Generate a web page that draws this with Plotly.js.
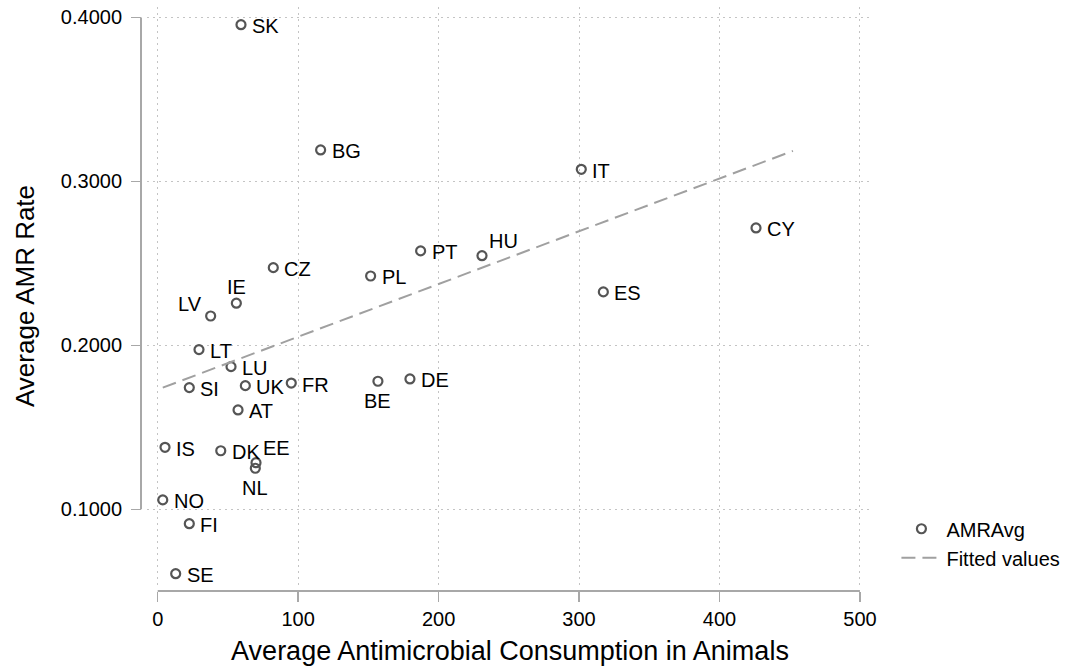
<!DOCTYPE html>
<html><head><meta charset="utf-8">
<script src="https://cdn.plot.ly/plotly-3.0.1.min.js"></script>
<style>html,body{margin:0;padding:0;background:#fff}#chart{width:1077px;height:666px}</style>
</head><body><div id="chart"></div>
<script>
// Data
const countries   = ['SK','BG','IT','CY','HU','PT','PL','ES','CZ','IE','LV','LT','LU','SI','UK','FR','AT','BE','DE','IS','DK','EE','NL','NO','FI','SE'];
const consumption = [59.3,116.0,301.6,426.0,230.9,187.2,151.6,317.3,82.3,56.0,37.7,29.4,52.2,22.5,62.4,95.1,57.2,156.8,179.6,5.2,44.9,70.0,69.5,3.6,22.5,12.8];
const amrAvg      = [0.3956,0.3192,0.3074,0.2716,0.2547,0.2576,0.2423,0.2326,0.2474,0.2257,0.2179,0.1974,0.1870,0.1742,0.1754,0.1770,0.1606,0.1781,0.1795,0.1378,0.1357,0.1284,0.1250,0.1057,0.0912,0.0607];
const labelPos    = ['r','r','r','r','tr','r','r','r','r','t','tl','r','r','r','r','r','r','b','r','r','r','tr','b','r','r','r'];
const fitX = [3.6, 452.3];
const fitY = [0.1742, 0.3186];
const xTicks = [0,100,200,300,400,500];
const yTicks = [0.1,0.2,0.3,0.4];
const seriesNames = ['AMRAvg','Fitted values'];
const xTitle = 'Average Antimicrobial Consumption in Animals';
const yTitle = 'Average AMR Rate';

const FONT = 'Liberation Sans, Arial, Helvetica, sans-serif';
const markerGray = '#555555';
const axisGray = '#a8a8a8';
const gridGray = '#c4c4c4';

const posStyle = {
  r:  {xanchor:'left',   yanchor:'middle', xshift:9,  yshift:-1.5},
  t:  {xanchor:'center', yanchor:'bottom', xshift:0,  yshift:3},
  tl: {xanchor:'right',  yanchor:'middle', xshift:-7, yshift:11.5},
  tr: {xanchor:'left',   yanchor:'middle', xshift:5,  yshift:15},
  b:  {xanchor:'center', yanchor:'middle', xshift:0,  yshift:-20}
};

const annotations = countries.map((c,i) => Object.assign({
  x: consumption[i], y: amrAvg[i], xref:'x', yref:'y', text: c, showarrow:false,
  font:{family:FONT, size:20, color:'#000'}
}, posStyle[labelPos[i]]));

const traces = [
  {
    type:'scatter', mode:'markers', name: seriesNames[0],
    x: consumption, y: amrAvg, text: countries,
    marker:{symbol:'circle-open', size:9, color:markerGray, line:{width:2.2, color:markerGray}},
    cliponaxis:false, hoverinfo:'text+x+y'
  },
  {
    type:'scatter', mode:'lines', name: seriesNames[1],
    x: fitX, y: fitY,
    line:{color:'#a0a0a0', width:2, dash:'14px,7px'}
  }
];

const layout = {
  width:1077, height:666,
  paper_bgcolor:'#fff', plot_bgcolor:'#fff',
  margin:{l:141, r:204, t:7, b:75},
  font:{family:FONT, size:20, color:'#000'},
  showlegend:true,
  legend:{x:1.032, y:0.14, xanchor:'left', yanchor:'top', bgcolor:'rgba(0,0,0,0)',
          font:{family:FONT, size:20, color:'#000'}, itemwidth:40, tracegroupgap:0},
  xaxis:{
    domain:[0.0082,1], range:[-7.62,509.3], anchor:'free', position:0,
    tickvals:xTicks, ticks:'outside', ticklen:10, tickwidth:1.5, tickcolor:axisGray,
    tickfont:{family:FONT, size:20, color:'#000'},
    showline:false, zeroline:false,
    showgrid:true, gridcolor:gridGray, gridwidth:1, griddash:'1.5px,4.5px',
    title:{text:xTitle, font:{family:FONT, size:27, color:'#000'}, standoff:17},
    automargin:false
  },
  yaxis:{
    domain:[0.0103,1], range:[0.0538,0.4064], anchor:'free', position:0,
    tickvals:yTicks, tickformat:'.4f', ticks:'outside', ticklen:10, tickwidth:1.5, tickcolor:axisGray,
    tickfont:{family:FONT, size:20, color:'#000'}, ticklabelstandoff:5,
    showline:false, zeroline:false,
    showgrid:true, gridcolor:gridGray, gridwidth:1, griddash:'1.5px,4.5px',
    title:{text:yTitle, font:{family:FONT, size:26, color:'#000'}, standoff:17},
    automargin:false
  },
  shapes:[
    {type:'line', xref:'x', yref:'paper', x0:xTicks[0], x1:xTicks[xTicks.length-1], y0:0, y1:0,
     line:{color:axisGray, width:2}},
    {type:'line', xref:'paper', yref:'y', x0:0, x1:0, y0:yTicks[0], y1:yTicks[yTicks.length-1],
     line:{color:axisGray, width:2}}
  ],
  annotations: annotations
};

Plotly.newPlot('chart', traces, layout, {displayModeBar:false, staticPlot:true});
</script>
</body></html>
